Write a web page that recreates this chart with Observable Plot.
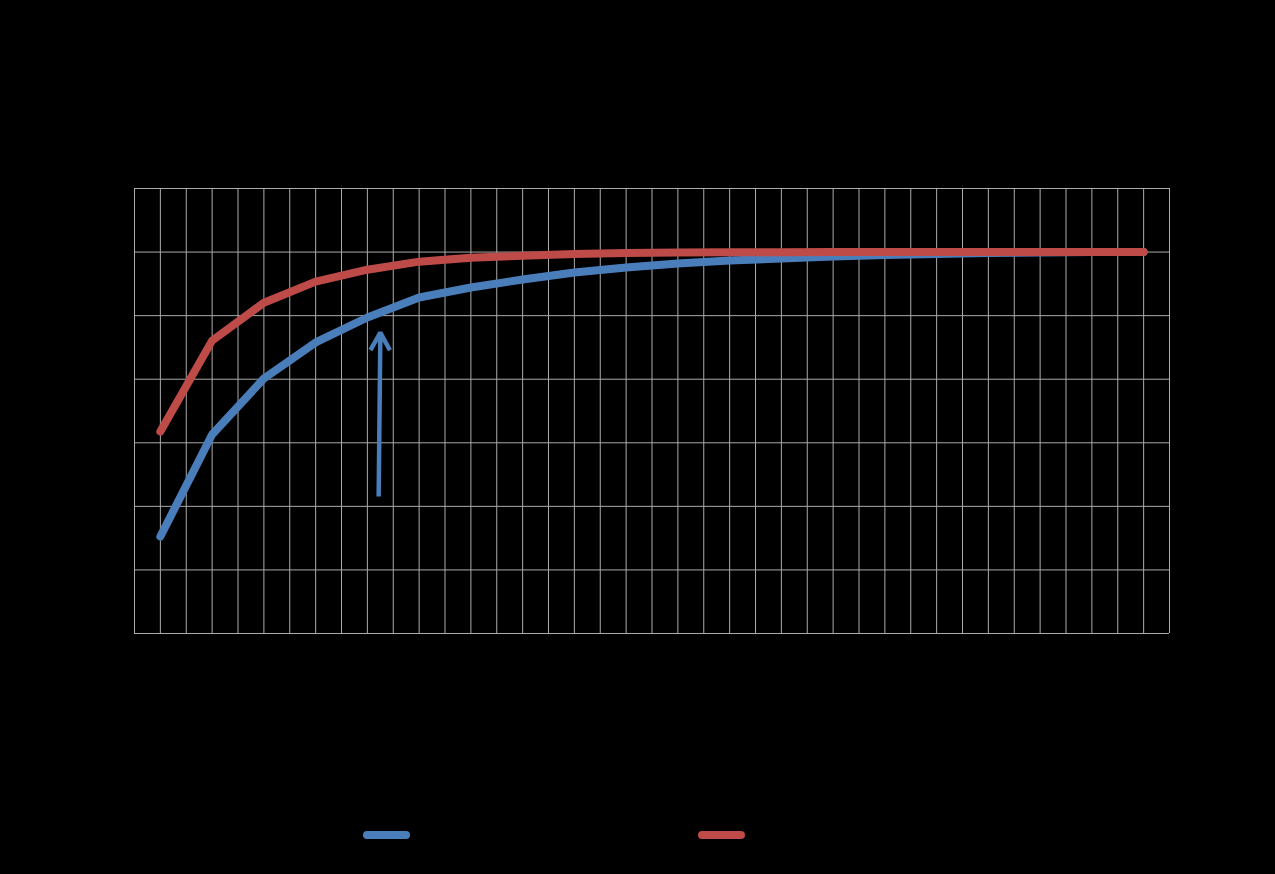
<!DOCTYPE html>
<html>
<head>
<meta charset="utf-8">
<script src="https://cdn.jsdelivr.net/npm/d3@7"></script>
<script src="https://cdn.jsdelivr.net/npm/@observablehq/plot@0.6"></script>
<style>
  html, body { margin: 0; padding: 0; background: #000; }
  body { width: 1275px; height: 874px; overflow: hidden; font-family: "Liberation Sans", Arial, sans-serif; }
  #legend { position: relative; width: 1275px; height: 84px; }
  .sw { position: absolute; height: 8px; width: 47px; border-radius: 4px; top: 41px; }
</style>
</head>
<body>
<div id="chart"></div>
<div id="legend">
  <div class="sw" style="left:363px;background:#4a7ebb"></div>
  <div class="sw" style="left:698px;background:#be4b48"></div>
</div>
<script>
const categories = d3.range(1, 21);
const seriesBlue = [1.526, 3.130, 4.011, 4.578, 4.971, 5.286, 5.443, 5.569, 5.679, 5.757,
                    5.820, 5.868, 5.899, 5.930, 5.954, 5.970, 5.986, 5.995, 6.0, 6.0];
const seriesRed  = [3.176, 4.607, 5.204, 5.535, 5.723, 5.849, 5.912, 5.943, 5.970, 5.986,
                    5.995, 5.997, 5.999, 6.0, 6.0, 6.0, 6.0, 6.0, 6.0, 6.0];
const yTicks = d3.range(0, 8);
const xGrid = d3.range(0.5, 20.51, 0.5);
const arrowData = [{x1: 5.218, y1: 2.154, x2: 5.251, y2: 4.733}];

const blue = categories.map((c, i) => ({x: c, y: seriesBlue[i]}));
const red = categories.map((c, i) => ({x: c, y: seriesRed[i]}));

const chart = Plot.plot({
  width: 1275,
  height: 790,
  marginTop: 188,
  marginLeft: 134,
  marginRight: 106,
  marginBottom: 157,
  style: {background: "#000"},
  x: {domain: [0.5, 20.5], axis: null},
  y: {domain: [0, 7], axis: null},
  marks: [
    Plot.ruleX(xGrid, {stroke: "#ababab", strokeWidth: 1}),
    Plot.ruleY(yTicks, {stroke: "#ababab", strokeWidth: 1}),
    Plot.line(blue, {x: "x", y: "y", stroke: "#4a7ebb", strokeWidth: 8, strokeLinecap: "round", strokeLinejoin: "round"}),
    Plot.line(red, {x: "x", y: "y", stroke: "#be4b48", strokeWidth: 8, strokeLinecap: "round", strokeLinejoin: "round"}),
    Plot.arrow(arrowData, {x1: "x1", y1: "y1", x2: "x2", y2: "y2", stroke: "#4a7ebb", strokeWidth: 4.5, headLength: 6.7, headAngle: 58, bend: 0, strokeLinecap: "butt"})
  ]
});
document.getElementById("chart").appendChild(chart);
</script>
</body>
</html>
